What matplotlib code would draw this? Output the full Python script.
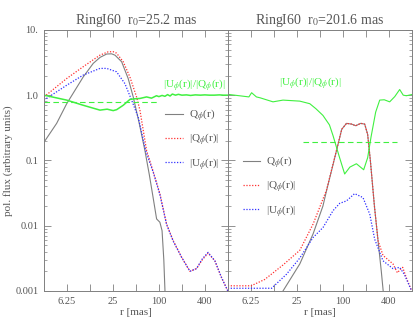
import matplotlib
matplotlib.use("Agg")
import matplotlib.pyplot as plt
from matplotlib.ticker import FixedLocator, FixedFormatter, LogLocator, NullFormatter

plt.rcParams['font.family'] = ['Liberation Serif', 'DejaVu Serif']
plt.rcParams['mathtext.fontset'] = 'stix'

# ---- left panel: r0 = 25.2 mas ----
r_q1 = [3.125, 4.58, 6.2, 10.2, 13.8, 17.0, 20.7, 24.0, 26.6, 32.5, 39.6, 46.1, 55.0,
        65.6, 75.0, 84.0, 93.3, 103.0, 110.0, 116.0, 121.0]
q1 = [0.19, 0.37, 0.74, 1.9, 3.07, 3.8, 4.27, 4.3, 4.1, 3.25, 1.8, 0.94, 0.38,
      0.142, 0.06, 0.027, 0.0127, 0.0113, 0.0084, 0.003, 0.0008]

r_aq1 = [3.125, 6.2, 10.2, 16.9, 21.5, 25.0, 27.9, 34.1, 41.7, 51.0, 56.4, 69.0, 85.0,
         103.0, 126.0, 154.0, 198.0, 255.0, 311.0, 370.0, 441.0, 541.0, 662.0, 800.0]
aq1 = [0.94, 1.8, 2.73, 4.1, 4.6, 4.65, 4.4, 3.25, 1.9, 0.94, 0.59, 0.142, 0.065,
       0.031, 0.0106, 0.0059, 0.0033, 0.0020, 0.0022, 0.0030, 0.0038, 0.0029, 0.0016, 0.001]

r_au1 = [3.125, 6.2, 10.2, 16.9, 20.7, 27.9, 35.9, 43.9, 53.6, 67.0, 85.0,
         103.0, 126.0, 154.0, 198.0, 255.0, 311.0, 370.0, 441.0, 541.0, 662.0, 800.0]
au1 = [0.84, 1.42, 2.03, 2.57, 2.57, 2.28, 1.5, 0.84, 0.46, 0.142, 0.064,
       0.030, 0.0105, 0.0058, 0.0033, 0.0020, 0.0022, 0.0031, 0.0039, 0.0029, 0.0016, 0.001]

r_rat1 = [3.125, 6.2, 10.2, 16.9, 21.0, 25.2, 28.0, 34.1, 41.7, 48.0, 56.4, 69.0, 80.0,
          93.0, 100.0, 110.0, 120.0, 130.0, 140.0, 150.0, 165.0, 180.0, 200.0, 230.0,
          260.0, 300.0, 350.0, 400.0, 460.0, 530.0, 620.0, 700.0, 800.0]
rat1 = [1.0, 0.84, 0.70, 0.59, 0.61, 0.58, 0.60, 0.70, 0.86, 0.88, 0.89, 0.94, 0.90,
        0.98, 0.95, 0.99, 0.96, 1.02, 0.97, 1.04, 1.0, 1.03, 1.0, 1.01, 0.99, 1.01,
        1.0, 1.01, 1.0, 1.0, 1.01, 1.0, 1.0]

# ---- right panel: r0 = 201.6 mas ----
r_q2 = [16.5, 27.4, 40.9, 55.0, 61.2, 82.7, 97.0, 112.0, 131.0, 148.0, 172.0, 194.0,
        212.0, 230.0, 260.0, 290.0, 320.0, 345.0]
q2 = [0.001, 0.0026, 0.0075, 0.02, 0.034, 0.14, 0.30, 0.37, 0.36, 0.34, 0.37, 0.36,
      0.25, 0.1, 0.02, 0.0059, 0.002, 0.0008]

r_aq2 = [3.125, 6.3, 9.5, 16.5, 27.4, 40.9, 61.2, 82.7, 97.0, 112.0, 131.0, 148.0,
         172.0, 194.0, 212.0, 230.0, 260.0, 290.0, 337.0, 455.0, 520.0, 580.0, 610.0,
         680.0, 800.0]
aq2 = [0.0012, 0.0012, 0.0015, 0.0025, 0.0042, 0.0106, 0.035, 0.142, 0.30, 0.37, 0.36,
       0.34, 0.37, 0.36, 0.25, 0.1, 0.02, 0.0059, 0.0035, 0.0026, 0.0019, 0.0022,
       0.0023, 0.0016, 0.001]

r_au2 = [3.125, 11.7, 18.3, 27.4, 40.9, 55.2, 74.6, 91.3, 112.0, 143.0, 184.0, 226.0,
         262.0, 337.0, 455.0, 557.0, 640.0, 800.0]
au2 = [0.0011, 0.0011, 0.0018, 0.0032, 0.0066, 0.0094, 0.017, 0.022, 0.024, 0.031,
       0.027, 0.015, 0.0062, 0.0029, 0.0022, 0.0023, 0.0018, 0.001]

r_rat2 = [3.125, 5.9, 6.4, 7.4, 8.3, 12.2, 16.5, 27.4, 37.0, 44.5, 55.0, 67.0, 74.6,
          82.7, 91.0, 106.0, 124.0, 151.0, 188.0, 212.0, 235.0, 270.0, 305.0, 350.0,
          412.0, 480.0, 557.0, 620.0, 682.0, 800.0]
rat2 = [1.03, 0.94, 1.09, 0.94, 0.91, 0.79, 0.84, 0.81, 0.74, 0.62, 0.49, 0.35, 0.24,
        0.16, 0.11, 0.062, 0.079, 0.089, 0.072, 0.11, 0.23, 0.55, 0.84, 0.85, 0.79,
        0.95, 1.22, 1.0, 0.98, 1.02]

# mean ratio lines
mean1_r = [3.125, 97.0]
mean1 = [0.79, 0.79]
mean2_r = [30.0, 510.0]
mean2 = [0.195, 0.195]

titles = ['RingI60  r$_0$=25.2 mas', 'RingI60  r$_0$=201.6 mas']
xticks = [6.25, 12.5, 25, 50, 100, 200, 400]
xticklabels = ['6.25', '', '25', '', '100', '', '400']
yticks = [0.001, 0.01, 0.1, 1.0, 10.0]
yticklabels = ['0.001', '0.01', '0.1', '1.0', '10.']

gray = '#808080'
txt = '#555555'
red = '#ff3030'
blue = '#3030ff'
green = '#40f040'
dots = (0, (1, 1.3))

fig = plt.figure(figsize=(4.15, 3.18), dpi=100)
ax1 = fig.add_axes([0.106, 0.085, 0.443, 0.821])
ax2 = fig.add_axes([0.549, 0.085, 0.443, 0.821])

panels = [
    (ax1, r_q1, q1, r_aq1, aq1, r_au1, au1, r_rat1, rat1, mean1_r, mean1),
    (ax2, r_q2, q2, r_aq2, aq2, r_au2, au2, r_rat2, rat2, mean2_r, mean2),
]

for i, (ax, rq, q, raq, aq, rau, au, rr, rat, mr, mv) in enumerate(panels):
    ax.plot(rq, q, color=gray, lw=0.8, label='Q$_\\phi$(r)')
    ax.plot(raq, aq, color=red, lw=0.9, ls=dots, label='|Q$_\\phi$(r)|')
    ax.plot(rau, au, color=blue, lw=0.9, ls=dots, label='|U$_\\phi$(r)|')
    ax.plot(rr, rat, color=green, lw=0.8 if i else 1.1)
    ax.plot(mr, mv, color=green, lw=0.8, ls=(0, (5, 3)))
    ax.set_xscale('log')
    ax.set_yscale('log')
    ax.set_xlim(3.125, 800)
    ax.set_ylim(0.001, 10)
    ax.xaxis.set_major_locator(FixedLocator(xticks))
    ax.xaxis.set_major_formatter(FixedFormatter(xticklabels))
    ax.xaxis.set_minor_locator(FixedLocator([]))
    ax.yaxis.set_major_locator(FixedLocator(yticks))
    ax.yaxis.set_minor_locator(LogLocator(base=10, subs=range(2, 10)))
    ax.yaxis.set_minor_formatter(NullFormatter())
    if i == 0:
        ax.yaxis.set_major_formatter(FixedFormatter(yticklabels))
        ax.set_ylabel('pol. flux (arbitrary units)', color=txt, fontsize=8, labelpad=2)
    else:
        ax.yaxis.set_major_formatter(NullFormatter())
    ax.tick_params(which='both', direction='in', top=True, right=True,
                   colors=gray, labelcolor=txt, labelsize=7.5, pad=4)
    ax.tick_params(which='major', length=5, width=0.6)
    ax.tick_params(which='minor', length=2.5, width=0.5)
    for s in ax.spines.values():
        s.set_color(gray)
        s.set_linewidth(0.7)
    ax.set_xlabel('r [mas]', color=txt, fontsize=8, labelpad=1.5)
    ax.set_title(titles[i], color=txt, fontsize=10, pad=4)

ax1.text(0.99, 0.79, '|U$_\\phi$(r)|/|Q$_\\phi$(r)|', transform=ax1.transAxes,
         color=green, fontsize=8, ha='right', va='center')
ax2.text(0.45, 0.797, '|U$_\\phi$(r)|/|Q$_\\phi$(r)|', transform=ax2.transAxes,
         color=green, fontsize=8, ha='center', va='center')

for ax, anchor in [(ax1, (0.66, 0.705)), (ax2, (0.08, 0.525))]:
    leg = ax.legend(loc='upper left', bbox_to_anchor=anchor, frameon=False,
                    fontsize=8, handlelength=1.6, handletextpad=0.5,
                    labelspacing=0.75, borderaxespad=0, borderpad=0)
    for t in leg.get_texts():
        t.set_color(txt)

plt.savefig('out.png', dpi=100)
plt.close()
